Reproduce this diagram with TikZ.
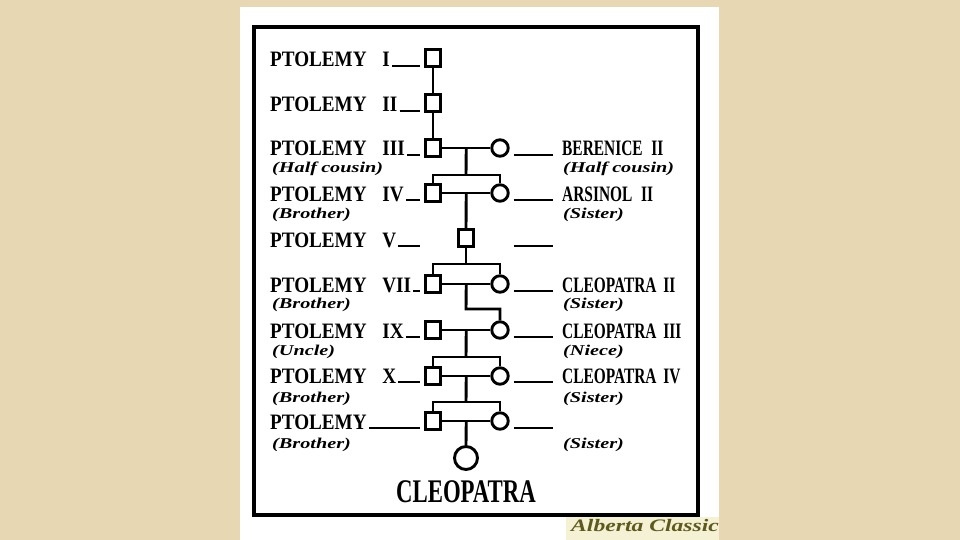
\documentclass[tikz,border=0pt]{standalone}
\usepackage{fontspec}
\setmainfont{Liberation Serif}
\newfontfamily\namefont{Liberation Serif}[FakeStretch=0.87]
\newfontfamily\rnamefont{Liberation Serif}[FakeStretch=0.70]
\newfontfamily\subfont{Liberation Serif}[FakeStretch=1.35]
\newfontfamily\cleofont{Liberation Serif}[FakeStretch=0.69]
\usetikzlibrary{calc}
\definecolor{bgbeige}{HTML}{E7D7B2}
\definecolor{markolive}{HTML}{5E5A1E}
\definecolor{patchyellow}{HTML}{F4F1D4}
\begin{document}
\begin{tikzpicture}[x=1pt,y=-1pt,
  lin/.style={line width=2.9pt},
  male/.style={draw, line width=2.9pt, minimum width=15.5pt, minimum height=17.5pt, inner sep=0pt, fill=white},
  female/.style={draw, circle, line width=2.9pt, minimum size=16.5pt, inner sep=0pt, fill=white},
  ptname/.style={anchor=base west, inner sep=0pt, font=\namefont\bfseries\fontsize{22}{24}\selectfont},
  rname/.style={anchor=base west, inner sep=0pt, font=\rnamefont\bfseries\fontsize{22}{24}\selectfont},
  rel/.style={anchor=west, inner sep=0pt, font=\subfont\bfseries\itshape\fontsize{15}{17}\selectfont},
]
\useasboundingbox (0,0) rectangle (960,540);
\fill[bgbeige] (0,0) rectangle (960,540);
\fill[white] (240,7) rectangle (719,540);
\fill[patchyellow] (566,517) rectangle (719,540);
\draw[line width=3.5pt] (254,27) rectangle (698,515);

% symbols
\node[male] (sI) at (433,58) {};
\node[male] (sII) at (433,103) {};
\node[male] (sIII) at (433,148) {};
\node[female] (cIII) at (500,148) {};
\node[male] (sIV) at (433,193) {};
\node[female] (cIV) at (500,193) {};
\node[male] (sV) at (466,238) {};
\node[male] (sVII) at (433,284) {};
\node[female] (cVII) at (500,284) {};
\node[male] (sIX) at (433,330) {};
\node[female] (cIX) at (500,330) {};
\node[male] (sX) at (433,376) {};
\node[female] (cX) at (500,376) {};
\node[male] (sXI) at (433,421) {};
\node[female] (cXI) at (500,421) {};
\node[female, minimum size=23pt] (cleo) at (466,458) {};

% names
\node[ptname] (tI) at (270,67) {PTOLEMY\hspace{11pt} I};
\node[ptname] (tII) at (270,112) {PTOLEMY\hspace{11pt} II};
\node[ptname] (tIII) at (270,156) {PTOLEMY\hspace{11pt} III};
\node[ptname] (tIV) at (270,201) {PTOLEMY\hspace{11pt} IV};
\node[ptname] (tV) at (270,247) {PTOLEMY\hspace{11pt} V};
\node[ptname] (tVII) at (270,292) {PTOLEMY\hspace{11pt} VII};
\node[ptname] (tIX) at (270,338) {PTOLEMY\hspace{11pt} IX};
\node[ptname] (tX) at (270,383) {PTOLEMY\hspace{11pt} X};
\node[ptname] (tXI) at (270,429) {PTOLEMY};

\node[rname] (rIII) at (562,156) {BERENICE\hspace{5pt} II};
\node[rname] (rIV) at (562,201) {ARSINOL\hspace{5pt} II};
\node[rname] (rVII) at (562,292) {CLEOPATRA\hspace{3pt} II};
\node[rname] (rIX) at (562,338) {CLEOPATRA\hspace{3pt} III};
\node[rname] (rX) at (562,383) {CLEOPATRA\hspace{3pt} IV};
\coordinate (rV) at (562,247);
\coordinate (rXI) at (562,429);

% relations
\node[rel] (hIII) at (272,169) {(Half\hspace{-1pt} cousin)};
\node[rel] (kIII) at (563,169) {(Half\hspace{-1pt} cousin)};
\node[rel] (hIV) at (272,215) {(Brother)};
\node[rel] (kIV) at (563,215) {(Sister)};
\node[rel] (hVII) at (272,305) {(Brother)};
\node[rel] (kVII) at (563,305) {(Sister)};
\node[rel] (hIX) at (272,352) {(Uncle)};
\node[rel] (kIX) at (563,352) {(Niece)};
\node[rel] (hX) at (272,399) {(Brother)};
\node[rel] (kX) at (563,399) {(Sister)};
\node[rel] (hXI) at (272,445) {(Brother)};
\node[rel] (kXI) at (563,445) {(Sister)};

% left underscores
\foreach \r in {I,II,III,IV,VII,IX,X,XI}{
  \draw[lin] ($(t\r.base east)+(2,-1)$) -- ($(t\r.base east -| s\r.west)+(-4,-1)$);
}
\draw[lin] ($(tV.base east)+(2,-1)$) -- ($(tV.base east -| sIV.west)+(-4,-1)$);

% right underscores
\foreach \r in {III,IV,VII,IX,X}{
  \draw[lin] ($(c\r.east |- r\r.base west)+(4,-1)$) -- ($(r\r.base west)+(-9,-1)$);
}
\draw[lin] ($(cIV.east |- rV)+(4,-1)$) -- ($(rV)+(-9,-1)$);
\draw[lin] ($(cXI.east |- rXI)+(4,-1)$) -- ($(rXI)+(-9,-1)$);

% marriages
\foreach \r in {III,IV,VII,IX,X,XI}{
  \draw[lin] (s\r.east) -- (c\r.west);
}
\foreach \r in {III,IV,VII,IX,X,XI}{
  \coordinate (m\r) at ($(s\r.east)!0.5!(c\r.west)$);
}

% descent
\draw[lin] (sI.south) -- (sII.north);
\draw[lin] (sII.south) -- (sIII.north);
\coordinate (bIV) at (466,175);
\draw[lin] (mIII) -- (bIV);
\draw[lin] (sIV.north) |- (bIV) -| (cIV.north);
\draw[lin] (mIV) -- (sV.north);
\coordinate (bVII) at (466,264);
\draw[lin] (sV.south) -- (bVII);
\draw[lin] (sVII.north) |- (bVII) -| (cVII.north);
\coordinate (bIX) at (466,309);
\draw[lin] (mVII) -- (bIX) -| (cIX.north);
\coordinate (bX) at (466,357);
\draw[lin] (mIX) -- (bX);
\draw[lin] (sX.north) |- (bX) -| (cX.north);
\coordinate (bXI) at (466,402);
\draw[lin] (mX) -- (bXI);
\draw[lin] (sXI.north) |- (bXI) -| (cXI.north);
\draw[lin] (mXI) -- (cleo.north);

\node[anchor=base, inner sep=0pt, font=\cleofont\bfseries\fontsize{33}{36}\selectfont] (cname) at (466,502) {CLEOPATRA};
\node[anchor=base west, inner sep=0pt, text=markolive, font=\subfont\bfseries\itshape\fontsize{17.5}{19}\selectfont] (credit) at (571,531) {Alberta Classic};
\end{tikzpicture}
\end{document}
